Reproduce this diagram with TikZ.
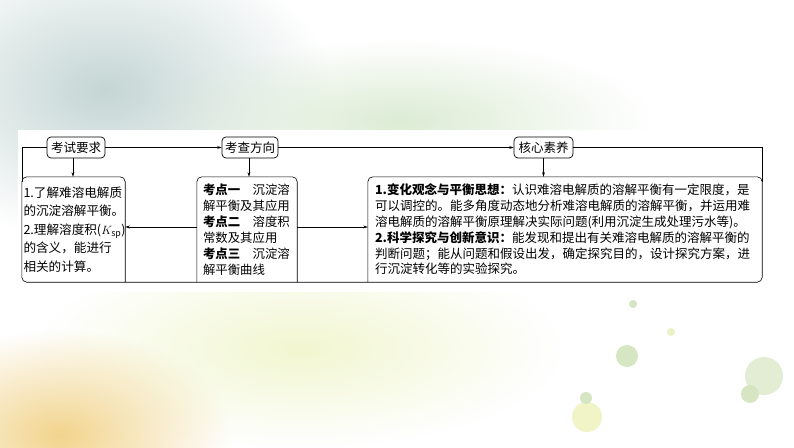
\documentclass[tikz,border=0pt]{standalone}
\usepackage{fontspec}
\setmainfont{Noto Sans CJK SC}
\usetikzlibrary{arrows.meta,fadings}
\definecolor{bgteal}{RGB}{196,214,212}
\definecolor{bggreen}{RGB}{220,236,212}
\definecolor{bgyellow}{RGB}{242,247,208}
\definecolor{bgorange}{RGB}{242,212,140}
\definecolor{dotgreen}{RGB}{214,230,194}
\definecolor{dotyellow}{RGB}{240,244,198}
\tikzfading[name=glow, inner color=transparent!0, outer color=transparent!100]

\begin{document}
\begin{tikzpicture}[x=1pt,y=-1pt,
  head/.style={draw,rounded corners=4pt,line width=0.7pt,inner sep=0pt,
    minimum height=21pt,font=\fontsize{12.5}{14}\selectfont},
  box/.style={inner sep=0pt,minimum height=105pt,align=left},
  link/.style={line width=0.6pt},
  arr/.style={link,-{Stealth[length=4.5pt,width=2.8pt]}}]
\useasboundingbox (0,0) rectangle (794,447);

% Background glow
\fill[white] (0,0) rectangle (794,447);
\fill[bgteal,path fading=glow] (-120,-60) rectangle (330,240);
\fill[bggreen,path fading=glow] (150,40) rectangle (650,200);
\fill[bgyellow,path fading=glow] (40,250) rectangle (560,447);
\fill[bgorange,path fading=glow] (-110,330) rectangle (230,540);

% Dots
\fill[dotgreen] (633,304) circle (4);
\fill[dotyellow!80!dotgreen] (671,332) circle (4);
\fill[dotgreen] (627,356) circle (11);
\fill[dotgreen!70!white] (764,376) circle (19);
\fill[dotgreen] (750,394) circle (9);
\fill[dotyellow] (587,417) circle (15);
\fill[dotgreen] (586,398) circle (6);

% Panel
\fill[white] (18,130) rectangle (768,292);

% Header boxes
\node[head,minimum width=58pt] (req) at (76,147.5) {考试要求};
\node[head,minimum width=56pt] (dir) at (250,147.5) {考查方向};
\node[head,minimum width=59pt] (core) at (543.5,147.5) {核心素养};

% Content boxes
\node[box,minimum width=103pt,text width=100pt,
  font=\fontsize{12.6}{18.5}\selectfont] (reqbox) at (73.5,229.5)
  {1.了解难溶电解质\\的沉淀溶解平衡。\\2.理解溶度积($K_{\mathrm{sp}}$)\\的含义，能进行\\相关的计算。};
\node[box,minimum width=100pt,text width=88pt,
  font=\fontsize{12.4}{16}\selectfont] (dirbox) at (247,229.5)
  {\textbf{考点一}　沉淀溶\\解平衡及其应用\\\textbf{考点二}　溶度积\\常数及其应用\\\textbf{考点三}　沉淀溶\\解平衡曲线};
\node[box,minimum width=394pt,text width=380pt,
  font=\fontsize{12.5}{15.8}\selectfont] (corebox) at (565,229.5)
  {\textbf{1.变化观念与平衡思想：}认识难溶电解质的溶解平衡有一定限度，是\\
   可以调控的。能多角度动态地分析难溶电解质的溶解平衡，并运用难\\
   溶电解质的溶解平衡原理解决实际问题(利用沉淀生成处理污水等)。\\
   \textbf{2.科学探究与创新意识：}能发现和提出有关难溶电解质的溶解平衡的\\
   判断问题；能从问题和假设出发，确定探究目的，设计探究方案，进\\
   行沉淀转化等的实验探究。};

% Box outlines
\draw[link,rounded corners=5pt] (reqbox.south east) -- (reqbox.north east)
  -- (reqbox.north west) -- (reqbox.south west) -- (corebox.south east)
  -- (corebox.north east) -- (corebox.north west) -- (corebox.south west);
\draw[link,rounded corners=5pt] (dirbox.south west) -- (dirbox.north west)
  -- (dirbox.north east) -- (dirbox.south east);

% Connectors
\draw[link] (req.west) -| ([yshift=-5pt]reqbox.north west);
\draw[link] (core.east) -| ([yshift=-5pt]corebox.north east);
\draw[arr] (req.east) -- (dir.west);
\draw[arr] (dir.east) -- (core.west);
\draw[arr] ([xshift=-3pt]req.south) -- ([xshift=-3pt]req.south |- reqbox.north);
\draw[arr] ([xshift=-1pt]dir.south) -- ([xshift=-1pt]dir.south |- dirbox.north);
\draw[arr] (core.south) -- (core.south |- corebox.north);
\draw[arr] ([yshift=2.5pt]dirbox.west) -- ([yshift=2.5pt]reqbox.east);
\draw[arr] ([yshift=2.5pt]dirbox.east) -- ([yshift=2.5pt]corebox.west);
\end{tikzpicture}
\end{document}
